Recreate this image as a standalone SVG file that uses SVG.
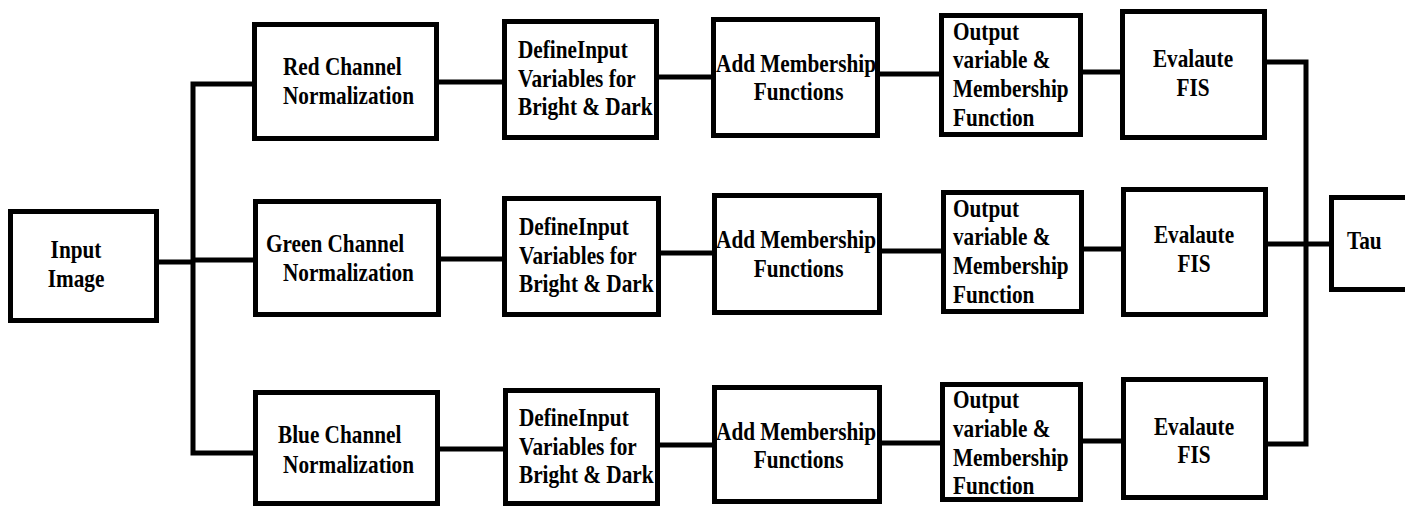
<svg xmlns="http://www.w3.org/2000/svg" width="1405" height="506" viewBox="0 0 1405 506">
<style>
.box{fill:#fff;stroke:#000;stroke-width:5}
.ln{fill:none;stroke:#000;stroke-width:5;stroke-linecap:square}
text{font-family:"Liberation Serif","Times New Roman",serif;font-weight:bold;font-size:25px;fill:#000}
.c{text-anchor:middle}
</style>
<rect width="1405" height="506" fill="#fff"/>
<g id="connectors">
<path class="ln" d="M159 262H193M193 84V453M193 84H252M193 260H253M193 453H253"/>
<path class="ln" d="M439 82H502M659 77H711M880 74H939M1083 72H1120"/>
<path class="ln" d="M441 259H502M661 253H712M882 251H941M1084 249H1121"/>
<path class="ln" d="M440 449H503M660 445H712M882 443H940M1083 441H1121"/>
<path class="ln" d="M1267 62H1306V444H1268M1268 244H1329"/>
</g>
<g id="input">
<rect class="box" x="10.5" y="211.5" width="146" height="109"/>
<text class="c" transform="translate(76,258) scale(.85 1)"><tspan x="0" y="0">Input</tspan><tspan x="0" y="29">Image</tspan></text>
</g>
<g id="red-norm">
<rect class="box" x="254.5" y="24.5" width="182" height="114"/>
<text transform="translate(283,75) scale(.85 1)"><tspan x="0" y="0">Red Channel</tspan><tspan x="0" y="29">Normalization</tspan></text>
</g>
<g id="green-norm">
<rect class="box" x="255.5" y="201.5" width="183" height="113"/>
<text transform="translate(266,252) scale(.85 1)"><tspan x="0" y="0">Green Channel</tspan><tspan x="20" y="29">Normalization</tspan></text>
</g>
<g id="blue-norm">
<rect class="box" x="255.5" y="392.5" width="182" height="111"/>
<text transform="translate(278,443) scale(.85 1)"><tspan x="0" y="0">Blue Channel</tspan><tspan x="6" y="30">Normalization</tspan></text>
</g>
<g id="red-define">
<rect class="box" x="504.5" y="21.5" width="152" height="116"/>
<text transform="translate(518,58) scale(.85 1)"><tspan x="0" y="0">DefineInput</tspan><tspan x="0" y="29">Variables for</tspan><tspan x="0" y="57">Bright &amp; Dark</tspan></text>
</g>
<g id="green-define">
<rect class="box" x="504.5" y="198.5" width="154" height="116"/>
<text transform="translate(519,235) scale(.85 1)"><tspan x="0" y="0">DefineInput</tspan><tspan x="0" y="29">Variables for</tspan><tspan x="0" y="57">Bright &amp; Dark</tspan></text>
</g>
<g id="blue-define">
<rect class="box" x="505.5" y="390.5" width="152" height="113"/>
<text transform="translate(519,426) scale(.85 1)"><tspan x="0" y="0">DefineInput</tspan><tspan x="0" y="29">Variables for</tspan><tspan x="0" y="57">Bright &amp; Dark</tspan></text>
</g>
<g id="red-add">
<rect class="box" x="713.5" y="19.5" width="164" height="116"/>
<text class="c" transform="translate(796,72) scale(.85 1)"><tspan x="0" y="0">Add Membership</tspan><tspan x="3" y="28">Functions</tspan></text>
</g>
<g id="green-add">
<rect class="box" x="714.5" y="195.5" width="165" height="117"/>
<text class="c" transform="translate(796,248) scale(.85 1)"><tspan x="0" y="0">Add Membership</tspan><tspan x="3" y="29">Functions</tspan></text>
</g>
<g id="blue-add">
<rect class="box" x="714.5" y="387.5" width="165" height="114"/>
<text class="c" transform="translate(796,440) scale(.85 1)"><tspan x="0" y="0">Add Membership</tspan><tspan x="3" y="28">Functions</tspan></text>
</g>
<g id="red-output">
<rect class="box" x="941.5" y="15.5" width="139" height="119"/>
<text transform="translate(953,40) scale(.85 1)"><tspan x="0" y="0">Output</tspan><tspan x="0" y="28">variable &amp;</tspan><tspan x="0" y="57">Membership</tspan><tspan x="0" y="86">Function</tspan></text>
</g>
<g id="green-output">
<rect class="box" x="943.5" y="192.5" width="138" height="119"/>
<text transform="translate(953,217) scale(.85 1)"><tspan x="0" y="0">Output</tspan><tspan x="0" y="28">variable &amp;</tspan><tspan x="0" y="57">Membership</tspan><tspan x="0" y="86">Function</tspan></text>
</g>
<g id="blue-output">
<rect class="box" x="942.5" y="384.5" width="138" height="115"/>
<text transform="translate(953,408) scale(.85 1)"><tspan x="0" y="0">Output</tspan><tspan x="0" y="29">variable &amp;</tspan><tspan x="0" y="58">Membership</tspan><tspan x="0" y="86">Function</tspan></text>
</g>
<g id="red-eval">
<rect class="box" x="1122.5" y="11.5" width="142" height="126"/>
<text class="c" transform="translate(1193,67) scale(.85 1)"><tspan x="0" y="0">Evalaute</tspan><tspan x="0" y="29">FIS</tspan></text>
</g>
<g id="green-eval">
<rect class="box" x="1123.5" y="189.5" width="142" height="125"/>
<text class="c" transform="translate(1194,243) scale(.85 1)"><tspan x="0" y="0">Evalaute</tspan><tspan x="0" y="29">FIS</tspan></text>
</g>
<g id="blue-eval">
<rect class="box" x="1123.5" y="379.5" width="142" height="118"/>
<text class="c" transform="translate(1194,435) scale(.85 1)"><tspan x="0" y="0">Evalaute</tspan><tspan x="0" y="28">FIS</tspan></text>
</g>
<g id="tau">
<rect class="box" x="1331.5" y="197.5" width="80" height="92"/>
<text transform="translate(1347,249) scale(.85 1)">Tau</text>
</g>
</svg>
